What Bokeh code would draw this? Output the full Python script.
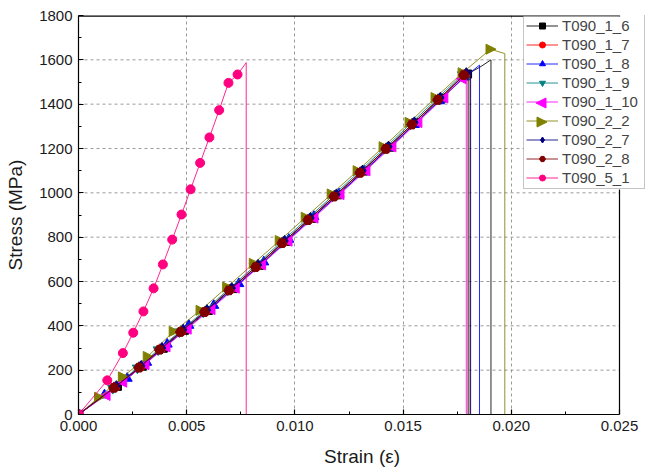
from bokeh.plotting import figure
from bokeh.models import Range1d, FixedTicker, PrintfTickFormatter, Legend, LegendItem
from bokeh.embed import file_html
from bokeh.resources import INLINE

# ---------------- data (strain, stress in MPa) ----------------
names = ["T090_1_6", "T090_1_7", "T090_1_8", "T090_1_9", "T090_1_10",
         "T090_2_2", "T090_2_7", "T090_2_8", "T090_5_1"]

# T090_1_6
x_1_6 = [0, 0.00180, 0.00295, 0.00392, 0.00490, 0.00600, 0.00714, 0.00836, 0.00958,
         0.01078, 0.01198, 0.01318, 0.01438, 0.01558, 0.01678, 0.01798]
y_1_6 = [0, 127, 218, 299, 380, 469, 568, 673, 781, 885, 991, 1098, 1206, 1316, 1427, 1536]
tx_1_6 = [0.01860, 0.01906, 0.01906]
ty_1_6 = [1570, 1600, 0]

# T090_1_7
x_1_7 = [0, 0.00170, 0.00285, 0.00380, 0.00478, 0.00588, 0.00702, 0.00824, 0.00946,
         0.01066, 0.01186, 0.01306, 0.01426, 0.01546, 0.01666, 0.01786]
y_1_7 = [0, 124, 214, 295, 376, 465, 564, 668, 776, 880, 986, 1093, 1201, 1311, 1422, 1534]
tx_1_7 = [0.01810, 0.01810]
ty_1_7 = [1548, 0]

# T090_1_8
x_1_8 = [0, 0.00120, 0.00225, 0.00315, 0.00410, 0.00510, 0.00625, 0.00741, 0.00856,
         0.00972, 0.01088, 0.01204, 0.01320, 0.01436, 0.01552, 0.01668, 0.01784]
y_1_8 = [0, 88, 163, 235, 317, 402, 492, 590, 688, 790, 893, 995, 1098, 1203, 1308, 1415, 1522]
tx_1_8 = [0.01853, 0.01853]
ty_1_8 = [1576, 0]

# T090_1_9
x_1_9 = [0, 0.00158, 0.00272, 0.00368, 0.00466, 0.00576, 0.00690, 0.00812, 0.00934,
         0.01054, 0.01174, 0.01294, 0.01414, 0.01534, 0.01654, 0.01774]
y_1_9 = [0, 118, 210, 292, 373, 463, 562, 668, 776, 880, 986, 1093, 1201, 1311, 1422, 1533]
tx_1_9 = [0.01804, 0.01804]
ty_1_9 = [1540, 0]

# T090_1_10
x_1_10 = [0, 0.00125, 0.00202, 0.00305, 0.00402, 0.00500, 0.00610, 0.00722, 0.00844,
          0.00966, 0.01086, 0.01206, 0.01326, 0.01446, 0.01566, 0.01686, 0.01770]
y_1_10 = [0, 86, 146, 225, 305, 385, 473, 570, 675, 782, 886, 992, 1099, 1207, 1317, 1428, 1515]
tx_1_10 = [0.01792, 0.01792]
ty_1_10 = [1530, 0]

# T090_2_2
x_2_2 = [0, 0.00095, 0.00205, 0.00320, 0.00440, 0.00564, 0.00687, 0.00810, 0.00930,
         0.01050, 0.01170, 0.01290, 0.01410, 0.01530, 0.01650, 0.01775, 0.01904]
y_2_2 = [0, 78, 170, 262, 375, 470, 575, 682, 785, 890, 995, 1100, 1208, 1318, 1430, 1542, 1648]
tx_2_2 = [0.01970, 0.01970]
ty_2_2 = [1628, 0]

# T090_2_7
x_2_7 = [0, 0.00175, 0.00290, 0.00386, 0.00484, 0.00594, 0.00708, 0.00830, 0.00952,
         0.01072, 0.01192, 0.01312, 0.01432, 0.01552, 0.01672, 0.01792]
y_2_7 = [0, 128, 219, 300, 382, 471, 570, 675, 783, 887, 993, 1100, 1208, 1318, 1429, 1540]
tx_2_7 = [0.01812, 0.01812]
ty_2_7 = [1552, 0]

# T090_2_8
x_2_8 = [0, 0.00163, 0.00279, 0.00374, 0.00471, 0.00582, 0.00695, 0.00818, 0.00940,
         0.01060, 0.01180, 0.01300, 0.01420, 0.01540, 0.01660, 0.01780]
y_2_8 = [0, 120, 211, 292, 372, 462, 560, 665, 773, 877, 983, 1090, 1198, 1308, 1419, 1531]
tx_2_8 = [0.01800, 0.01800]
ty_2_8 = [1545, 0]

# T090_5_1
x_5_1 = [0, 0.00133, 0.00205, 0.00253, 0.00300, 0.00347, 0.00390, 0.00433, 0.00476,
         0.00518, 0.00562, 0.00605, 0.00650, 0.00693, 0.00735]
y_5_1 = [0, 154, 277, 369, 465, 569, 677, 789, 902, 1016, 1135, 1250, 1373, 1496, 1534]
tx_5_1 = [0.00775, 0.00775]
ty_5_1 = [1587, 0]

x_ticks = [0.0, 0.005, 0.010, 0.015, 0.020, 0.025]
x_minor = [0.0025, 0.0075, 0.0125, 0.0175, 0.0225]
y_ticks = [0, 200, 400, 600, 800, 1000, 1200, 1400, 1600, 1800]
y_minor = [100, 300, 500, 700, 900, 1100, 1300, 1500, 1700]

series_x = [x_1_6, x_1_7, x_1_8, x_1_9, x_1_10, x_2_2, x_2_7, x_2_8, x_5_1]
series_y = [y_1_6, y_1_7, y_1_8, y_1_9, y_1_10, y_2_2, y_2_7, y_2_8, y_5_1]
tails_x = [tx_1_6, tx_1_7, tx_1_8, tx_1_9, tx_1_10, tx_2_2, tx_2_7, tx_2_8, tx_5_1]
tails_y = [ty_1_6, ty_1_7, ty_1_8, ty_1_9, ty_1_10, ty_2_2, ty_2_7, ty_2_8, ty_5_1]

# ---------------- styles ----------------
colors = ["#000000", "#FF0000", "#0000FF", "#008080", "#FF00FF",
          "#808000", "#000080", "#800000", "#FF0080"]
# "left" / "right" = sideways triangles (drawn as small polygons)
marker_types = ["square", "circle", "triangle", "inverted_triangle", "left",
                "right", "diamond", "hex", "circle"]
marker_sizes = [8, 9, 10, 10, 10, 10, 11, 10, 9]

FONT = "Liberation Sans"

# layout in pixels
W, H = 648, 473
B_LEFT, B_RIGHT, B_TOP, B_BOTTOM = 78, 3, 15, 59
FRAME_W = W - B_LEFT - B_RIGHT          # 567
FRAME_H = H - B_TOP - B_BOTTOM          # 399
AXES_W = 541                            # axes box width (0 .. 0.025)

x_end = x_ticks[-1]
x_view_end = x_end * FRAME_W / AXES_W   # extra room on the right for the legend
y_end = y_ticks[-1]
px_x = x_view_end / FRAME_W             # data units per pixel
px_y = y_end / FRAME_H


def cx_to_data(px):   # canvas x (px) -> data x
    return (px - B_LEFT) * px_x


def cy_to_data(py):   # canvas y (px) -> data y
    return (H - B_BOTTOM - py) * px_y


p = figure(width=W, height=H, output_backend="svg", toolbar_location=None,
           x_range=Range1d(0, x_view_end), y_range=Range1d(0, y_end),
           min_border_left=B_LEFT, min_border_right=B_RIGHT,
           min_border_top=B_TOP, min_border_bottom=B_BOTTOM)
p.outline_line_color = None
p.background_fill_color = "white"
p.border_fill_color = "white"

p.xaxis.ticker = FixedTicker(ticks=x_ticks, minor_ticks=x_minor)
p.yaxis.ticker = FixedTicker(ticks=y_ticks, minor_ticks=y_minor)
p.xaxis.bounds = (0, x_end)
p.xaxis.formatter = PrintfTickFormatter(format="%.3f")
p.xaxis.axis_label = "Strain (ε)"
p.yaxis.axis_label = "Stress (MPa)"

for ax in (p.xaxis[0], p.yaxis[0]):
    ax.major_tick_in = 5
    ax.major_tick_out = 0
    ax.minor_tick_in = 3
    ax.minor_tick_out = 0
    ax.axis_line_width = 1.2
    ax.major_tick_line_width = 1.2
    ax.major_label_text_font = FONT
    ax.major_label_text_font_size = "15px"
    ax.major_label_text_color = "#1a1a1a"
    ax.axis_label_text_font = FONT
    ax.axis_label_text_font_size = "19px"
    ax.axis_label_text_font_style = "normal"
    ax.axis_label_text_color = "#1a1a1a"
    ax.major_label_standoff = 6
p.xaxis[0].axis_label_standoff = 12
p.yaxis[0].axis_label_standoff = 10

# vertical grid (inner ticks only)
p.xgrid.ticker = FixedTicker(ticks=x_ticks[1:-1])
p.xgrid.grid_line_color = "#9a9a9a"
p.xgrid.grid_line_dash = "3 3"
p.xgrid.grid_line_width = 1
# horizontal grid only inside the axes box
p.ygrid.visible = False
inner_y = y_ticks[1:-1]
p.segment(x0=[0] * len(inner_y), x1=[x_end] * len(inner_y), y0=inner_y, y1=inner_y,
          line_color="#9a9a9a", line_dash="3 3", line_width=1)

# top and right borders of the axes box
p.line([0, x_end], [y_end, y_end], line_color="black", line_width=2.4)
p.line([x_end, x_end], [0, y_end], line_color="black", line_width=1.2)


def side_triangle(cx, cy, direction, size):
    """sideways triangle of `size` pixels centred on a data point"""
    h = size / 2.0
    tip = -1 if direction == "left" else 1
    xs = [cx + tip * 0.55 * size * px_x, cx - tip * 0.45 * size * px_x, cx - tip * 0.45 * size * px_x]
    ys = [cy, cy + h * px_y, cy - h * px_y]
    return xs, ys


items = []
side_legend = []   # (row index, kind, color, size)
for i in range(len(names)):
    lx = series_x[i] + tails_x[i]
    ly = series_y[i] + tails_y[i]
    lr = p.line(lx, ly, line_color=colors[i], line_width=1, line_alpha=0.85)
    mk = marker_types[i]
    if mk in ("left", "right"):
        pxs, pys = [], []
        for cx, cy in zip(series_x[i], series_y[i]):
            a, b = side_triangle(cx, cy, mk, marker_sizes[i])
            pxs.append(a)
            pys.append(b)
        p.patches(pxs, pys, fill_color=colors[i], line_color=colors[i], line_width=1)
        items.append(LegendItem(label=names[i], renderers=[lr]))
        side_legend.append((i, mk, colors[i], marker_sizes[i]))
    else:
        sr = p.scatter(series_x[i], series_y[i], marker=mk, size=marker_sizes[i],
                       fill_color=colors[i], line_color=colors[i])
        items.append(LegendItem(label=names[i], renderers=[lr, sr]))

# ---- legend: white panel + sideways symbols drawn as glyphs, legend itself transparent on top
LEG_X, LEG_Y = 445, 225                 # frame-relative px (left, bottom)
LEG_LEFT = B_LEFT + LEG_X               # canvas px
LEG_BOTTOM = H - B_BOTTOM - LEG_Y       # canvas px
LEG_TOP = LEG_BOTTOM - 173
LEG_RIGHT = LEG_LEFT + 120
p.quad(left=[cx_to_data(LEG_LEFT)], right=[cx_to_data(LEG_RIGHT)],
       bottom=[cy_to_data(LEG_BOTTOM)], top=[cy_to_data(LEG_TOP)],
       fill_color="white", line_color=None)

ROW0_CY = LEG_TOP + 2 + 8.5     # canvas y (px) of the first legend row centre
ROW_STEP = 19                   # px between legend rows
GLYPH_CX = LEG_LEFT + 2 + 16    # canvas x (px) of the legend symbol centre
for (i, mk, c, s) in side_legend:
    a, b = side_triangle(cx_to_data(GLYPH_CX), cy_to_data(ROW0_CY + ROW_STEP * i), mk, s)
    p.patch(a, b, fill_color=c, line_color=c, line_width=1)

legend = Legend(items=items, location=(LEG_X, LEG_Y), margin=0, padding=2,
                glyph_width=32, glyph_height=15, label_standoff=4, spacing=2,
                label_text_font=FONT, label_text_font_size="15px", label_height=15,
                label_width=80,
                border_line_color="#8c8c8c", border_line_width=1,
                background_fill_alpha=0.0)
p.add_layout(legend)

open("out.html", "w").write(file_html(p, INLINE))
